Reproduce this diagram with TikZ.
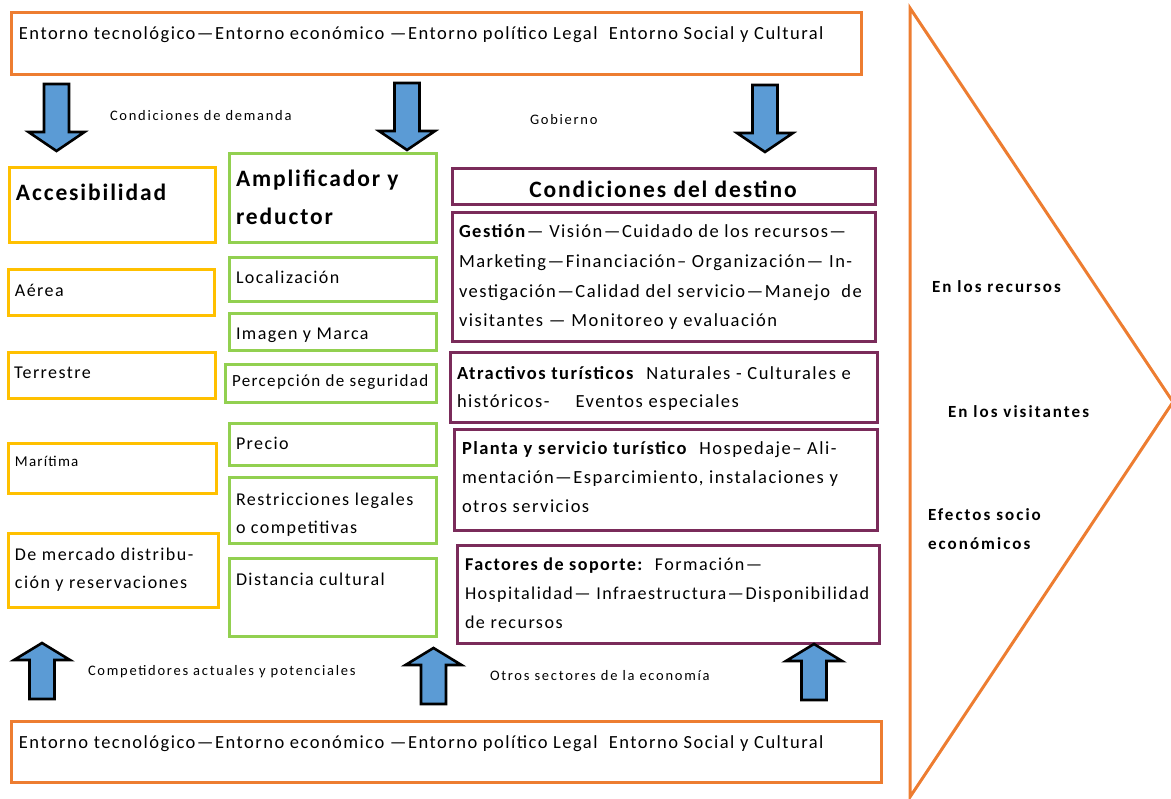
\documentclass[tikz,border=0pt]{standalone}
\usepackage{fontspec}
\setmainfont{Carlito}[LetterSpace=8]
\newfontfamily\headfont{Carlito}[LetterSpace=8]
\newfontfamily\effectfont{Carlito}[LetterSpace=12]
\newfontfamily\labelfont{Carlito}[LetterSpace=12]
\usetikzlibrary{positioning}

\definecolor{envorange}{HTML}{ED7D31}
\definecolor{accyellow}{HTML}{FFC000}
\definecolor{ampgreen}{HTML}{92D050}
\definecolor{destpurple}{HTML}{7A2B5A}
\definecolor{arrowblue}{HTML}{5B9BD5}

\tikzset{
  frame/.style={draw=#1, line width=3pt, inner sep=0pt, outer sep=0pt, anchor=north west},
  body/.style={anchor=base west, inner sep=0pt, outer sep=0pt, align=left,
    font=\fontsize{18}{29.5}\selectfont},
  wide/.style={body, font=\fontsize{18.5}{#1}\selectfont},
  small/.style={anchor=base west, inner sep=0pt, outer sep=0pt,
    font=\labelfont\fontsize{14.5}{17}\selectfont},
  heading/.style={anchor=base west, inner sep=0pt, outer sep=0pt, align=left,
    font=\headfont\fontsize{23.5}{38}\selectfont\bfseries},
  effect/.style={anchor=base west, inner sep=0pt, outer sep=0pt, align=left,
    font=\effectfont\fontsize{17}{29}\selectfont\bfseries},
  blockarrow/.style={fill=arrowblue, draw=black, line width=2.6pt, line join=miter},
  down arrow/.pic={\draw[blockarrow] (-12.5,0) -- (12.5,0) -- (12.5,48) -- (28,48)
      -- (0,67) -- (-28,48) -- (-12.5,48) -- cycle;},
  up arrow/.pic={\draw[blockarrow] (0,0) -- (28,17) -- (12.5,17) -- (12.5,56)
      -- (-12.5,56) -- (-12.5,17) -- (-28,17) -- cycle;},
}

% place a framed box from its corners (x1,y1) to (x2,y2)
\newcommand{\boxat}[6]{%
  \node[frame=#2, minimum width=#5-#3, minimum height=#6-#4] (#1) at (#3,#4) {};}

\begin{document}
\begin{tikzpicture}[x=1pt, y=-1pt]
\useasboundingbox (0,0) rectangle (1171,799);

% environment frames, top and bottom
\boxat{envtop}{envorange}{11}{13}{861}{75}
\boxat{envbot}{envorange}{11}{721}{881}{782}
\node[wide=22] (envtoptext) at (19,40) {Entorno tecnológico—Entorno económico —Entorno político Legal\ \ Entorno Social y Cultural};
\node[wide=22] (envbottext) at (19,748) {Entorno tecnológico—Entorno económico —Entorno político Legal\ \ Entorno Social y Cultural};

% accessibility column
\boxat{acc}{accyellow}{9}{168}{215}{243}
\boxat{aerea}{accyellow}{8}{270}{214}{316}
\boxat{terr}{accyellow}{8}{353}{215}{399}
\boxat{mari}{accyellow}{8}{444}{216}{494}
\boxat{merc}{accyellow}{8}{534}{218}{607}
\node[heading] (acctext) at (16,201) {Accesibilidad};
\node[body] (aereatext) at (15,297) {Aérea};
\node[body] (terrtext) at (14,379) {Terrestre};
\node[body, font=\fontsize{15}{18}\selectfont] (maritext) at (15,467) {Marítima};
\node[body, font=\fontsize{18}{28}\selectfont] (merctext) at (15,588) {De mercado distribu-\\ción y reservaciones};

% amplifier / reducer column
\boxat{amp}{ampgreen}{229}{154}{436}{243}
\boxat{loc}{ampgreen}{229}{258}{436}{302}
\boxat{img}{ampgreen}{229}{314}{436}{351}
\boxat{seg}{ampgreen}{225}{365}{436}{403}
\boxat{prec}{ampgreen}{229}{424}{436}{466}
\boxat{restr}{ampgreen}{229}{478}{436}{544}
\boxat{dist}{ampgreen}{229}{559}{436}{636}
\node[heading] (amptext) at (236,225) {Amplificador y\\reductor};
\node[body] (loctext) at (236,284) {Localización};
\node[body] (imgtext) at (236,340) {Imagen y Marca};
\node[body, font=\fontsize{17}{20}\selectfont] (segtext) at (232,387) {Percepción de seguridad};
\node[body] (prectext) at (236,450) {Precio};
\node[body, font=\fontsize{18}{28}\selectfont] (restrtext) at (236,533) {Restricciones legales\\o competitivas};
\node[body] (disttext) at (236,586) {Distancia cultural};

% destination conditions column
\boxat{dest}{destpurple}{452}{169}{875}{205}
\boxat{gest}{destpurple}{452}{213}{875}{342}
\boxat{atr}{destpurple}{450}{353}{877}{423}
\boxat{planta}{destpurple}{454}{430}{877}{531}
\boxat{fact}{destpurple}{457}{546}{879}{643}
\node[heading, anchor=base] (desttext) at (663,198) {Condiciones del destino};
\node[wide=29.67] (gesttext) at (459,327) {\textbf{Gestión}— Visión—Cuidado de los recursos—\\Marketing—Financiación– Organización— In-\\vestigación—Calidad del servicio—Manejo\ \ de\\visitantes — Monitoreo y evaluación};
\node[wide=28] (atrtext) at (457,408) {\textbf{Atractivos turísticos}\ \ Naturales - Culturales e\\históricos-\hspace{26pt}Eventos especiales};
\node[wide=29] (plantatext) at (462,513) {\textbf{Planta y servicio turístico}\ \ Hospedaje– Ali-\\mentación—Esparcimiento, instalaciones y\\otros servicios};
\node[body, font=\fontsize{18.1}{29}\selectfont] (facttext) at (465,628) {\textbf{Factores de soporte:}\ \ Formación—\\Hospitalidad— Infraestructura—Disponibilidad\\de recursos};

% block arrows from and towards the environment frames
\pic at (56.5,84) {down arrow};
\pic at (407,83) {down arrow};
\pic at (765,85) {down arrow};
\pic at (42,643) {up arrow};
\pic at (433.5,648) {up arrow};
\pic at (814,644) {up arrow};

% arrow labels
\node[small] (demanda) at (110,121) {Condiciones de demanda};
\node[small] (gobierno) at (530,125) {Gobierno};
\node[small] (competidores) at (88,675) {Competidores actuales y potenciales};
\node[small] (sectores) at (490,680) {Otros sectores de la economía};

% effects triangle
\draw[envorange, line width=3pt, line join=miter] (910,8) -- (1173,402) -- (910,797) -- cycle;
\node[effect] (recursos) at (932,293) {En los recursos};
\node[effect] (visitantes) at (948,418) {En los visitantes};
\node[effect] (efectos) at (928,550) {Efectos socio\\económicos};
\end{tikzpicture}
\end{document}
